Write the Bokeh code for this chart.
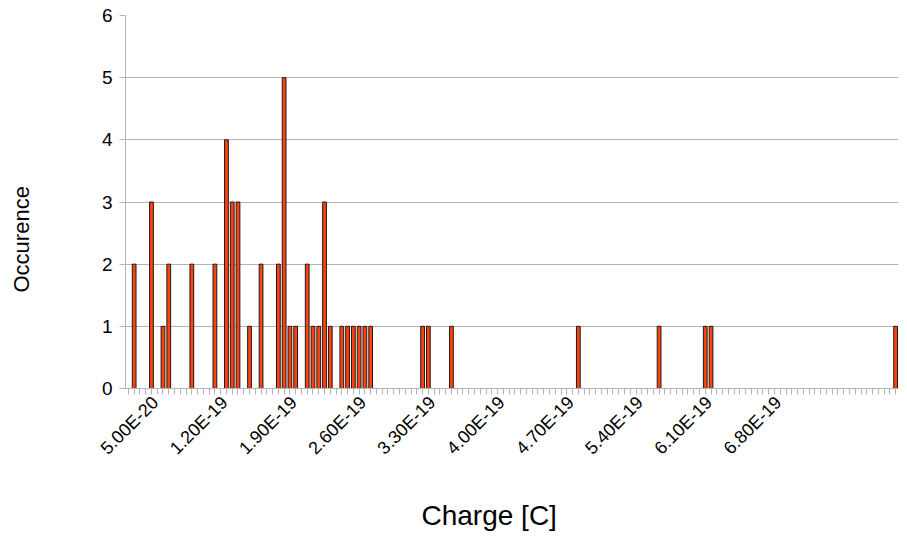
import math
from bokeh.plotting import figure
from bokeh.models import Range1d, FixedTicker, ColumnDataSource, Title
from bokeh.embed import file_html
from bokeh.resources import INLINE

# ---- data ----
bin_start = 5.0e-20          # first category (C)
bin_width = 7.0e-20 / 12     # category step (C)
n_bins = 134                 # number of categories on the axis

bin_index = [1, 4, 6, 7, 11, 15, 17, 18, 19, 21, 23, 26, 27, 28, 29, 31, 32, 33,
             34, 35, 37, 38, 39, 40, 41, 42, 51, 52, 56, 78, 92, 100, 101, 133]
occurrences = [2, 3, 1, 2, 2, 2, 4, 3, 3, 1, 2, 2, 5, 1, 1, 2, 1, 1,
               3, 1, 1, 1, 1, 1, 1, 1, 1, 1, 1, 1, 1, 1, 1, 1]
tick_labels = ["5.00E-20", "1.20E-19", "1.90E-19", "2.60E-19", "3.30E-19",
               "4.00E-19", "4.70E-19", "5.40E-19", "6.10E-19", "6.80E-19"]
y_ticks = [0, 1, 2, 3, 4, 5, 6]
x_title = "Charge [C]"
y_title = "Occurence"

charges = [bin_start + i * bin_width for i in bin_index]
src = ColumnDataSource(dict(x=charges, top=occurrences))

all_centers = [bin_start + i * bin_width for i in range(n_bins)]
major = [bin_start + 12 * i * bin_width for i in range(len(tick_labels))]

FONT = "Liberation Sans"
W, H = 899, 532
LEFT, RIGHT, TOP, BOTTOM = 125, 1, 15, 144
frame_w = W - LEFT - RIGHT
x0 = bin_start - bin_width / 2
x1 = bin_start + (n_bins - 0.5) * bin_width
dx_px = (x1 - x0) / frame_w

# rotated labels in LibreOffice are centred on their tick: shift the (invisible)
# major tick so that Bokeh's right-anchored rotated label ends up centred
shift = 27 * dx_px
label_pos = [m + shift for m in major]

p = figure(width=W, height=H, output_backend="svg", toolbar_location=None,
           x_range=Range1d(x0, x1), y_range=Range1d(0, 6),
           min_border_left=LEFT, min_border_right=RIGHT,
           min_border_top=TOP, min_border_bottom=BOTTOM)
p.outline_line_color = None
p.background_fill_color = "white"

p.vbar(x="x", top="top", bottom=0, width=bin_width * 0.65, source=src,
       fill_color="#ff420e", line_color="#1a1a1a", line_width=1)

# grid
p.xgrid.grid_line_color = None
p.ygrid.grid_line_color = "#b3b3b3"
p.ygrid.grid_line_width = 1

# x axis
xa = p.xaxis[0]
xa.ticker = FixedTicker(ticks=label_pos, minor_ticks=all_centers)
xa.major_label_overrides = {lp: lab for lp, lab in zip(label_pos, tick_labels)}
xa.major_label_orientation = math.pi / 4
xa.axis_line_color = "#b3b3b3"
xa.major_tick_line_color = None
xa.major_tick_in = 0
xa.major_tick_out = 6
xa.minor_tick_line_color = "#b3b3b3"
xa.minor_tick_in = 0
xa.minor_tick_out = 6
xa.major_label_text_font = FONT
xa.major_label_text_font_size = "18px"
xa.major_label_text_color = "#000000"
xa.major_label_standoff = 5
# blank spacer so the title can sit lower
xa.axis_label = " "
xa.axis_label_text_font_size = "1px"
xa.axis_label_text_alpha = 0
xa.axis_label_standoff = 26

# y axis
ya = p.yaxis[0]
ya.ticker = FixedTicker(ticks=y_ticks)
ya.minor_tick_line_color = None
ya.axis_line_color = "#b3b3b3"
ya.major_tick_line_color = "#b3b3b3"
ya.major_tick_in = 0
ya.major_tick_out = 6
ya.major_label_text_font = FONT
ya.major_label_text_font_size = "19px"
ya.major_label_text_color = "#000000"
ya.major_label_standoff = 7
# blank spacer so the title can sit further left
ya.axis_label = " "
ya.axis_label_text_font_size = "1px"
ya.axis_label_text_alpha = 0
ya.axis_label_standoff = 60

# axis titles (side titles so they can sit off-centre like the reference)
p.add_layout(Title(text=x_title, align="left", offset=489 - LEFT - 68,
                   vertical_align="middle", standoff=0,
                   text_font=FONT, text_font_size="28px", text_font_style="normal",
                   text_color="black"), "below")
p.add_layout(Title(text=y_title, align="left", offset=388 - 292,
                   vertical_align="middle", standoff=0,
                   text_font=FONT, text_font_size="22px", text_font_style="normal",
                   text_color="black"), "left")

open("out.html", "w").write(file_html(p, INLINE))
